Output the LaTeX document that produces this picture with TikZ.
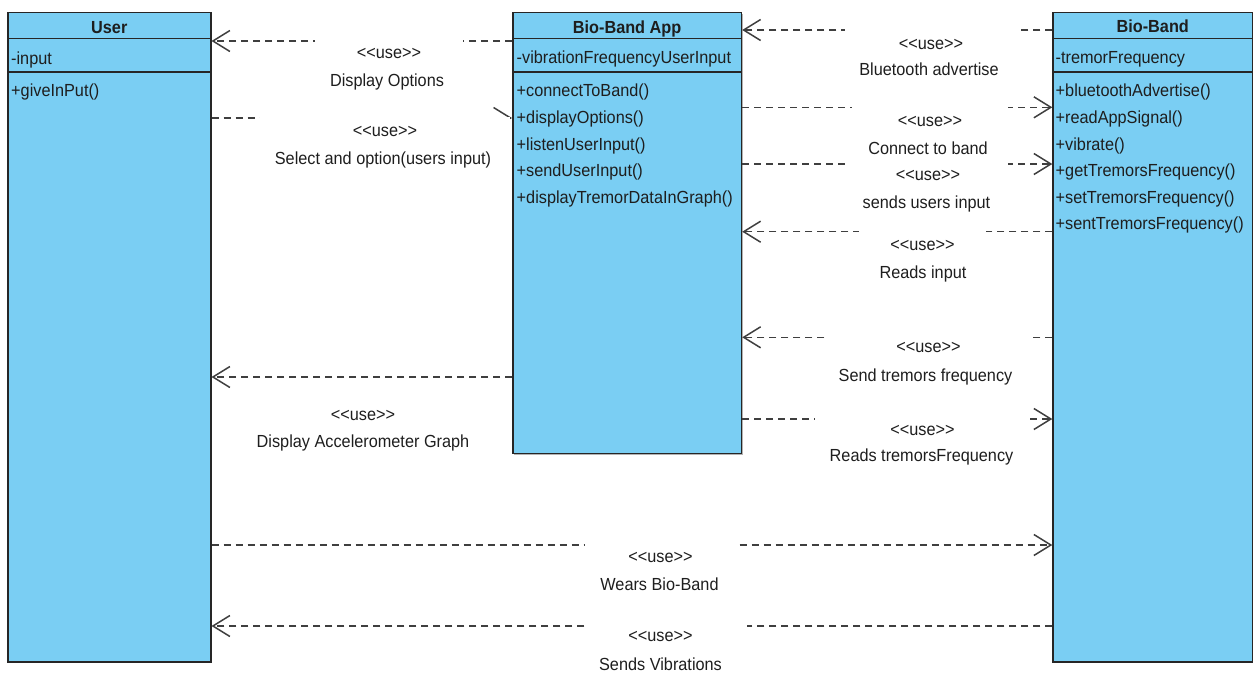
\documentclass[tikz,border=0pt]{standalone}
\usepackage{fontspec}
\setmainfont{Liberation Sans}[FakeStretch=0.93, Ligatures=TeXOff]
\usetikzlibrary{arrows.meta}

\definecolor{classfill}{HTML}{7ACEF3}
\definecolor{classedge}{HTML}{262626}
\definecolor{depline}{HTML}{3F3F3F}
\definecolor{ink}{HTML}{1E1E1E}

\begin{document}
\begin{tikzpicture}[x=1pt, y=-1pt,
  every node/.style={font=\fontsize{17.5}{21}\selectfont, text=ink},
  classbox/.style={draw=classedge, line width=1.5pt, fill=classfill,
    anchor=north west, inner sep=0pt,
    preaction={fill=black!30, transform canvas={shift={(1.2pt,-1.4pt)}}}},
  classline/.style={draw=classedge, line width=1.5pt},
  classtitle/.style={anchor=base, inner sep=0pt, font=\fontsize{17.5}{21}\selectfont\bfseries},
  member/.style={anchor=base west, inner sep=0pt},
  dep/.style={draw=depline, line width=1.5pt, dash pattern=on 7pt off 5pt,
    -{Straight Barb[length=17pt, width=21pt, line width=1.5pt]}},
  usemask/.style={anchor=base, fill=white, inner sep=0pt, text depth=3pt},
  deptext/.style={anchor=base, inner sep=0pt},
]
\useasboundingbox (0,0) rectangle (1253,673);

% ---------- class User ----------
\node[classbox, minimum width=203pt, minimum height=649.3pt] (user) at (7,11.7) {};
\draw[classline] (user.west |- 0,38.7) -- (user.east |- 0,38.7);
\draw[classline] (user.west |- 0,71.8) -- (user.east |- 0,71.8);
\node[classtitle] (usertitle) at (user.north |- 0,33.3) {User};
\node[member] (userattr) at (11,64) {-input};
\node[member] (userop1) at (11,96.7) {+giveInPut()};

% ---------- class Bio-Band App ----------
\node[classbox, minimum width=228.7pt, minimum height=441pt] (app) at (512,11.7) {};
\draw[classline] (app.west |- 0,38.7) -- (app.east |- 0,38.7);
\draw[classline] (app.west |- 0,71.8) -- (app.east |- 0,71.8);
\node[classtitle] (apptitle) at (app.north |- 0,33.3) {Bio-Band App};
\node[member] (appattr) at (516.5,63.5) {-vibrationFrequencyUserInput};
\node[member] (appop1) at (516.5,96.7)  {+connectToBand()};
\node[member] (appop2) at (516.5,123.35) {+displayOptions()};
\node[member] (appop3) at (516.5,150)   {+listenUserInput()};
\node[member] (appop4) at (516.5,176.65) {+sendUserInput()};
\node[member] (appop5) at (516.5,203.3) {+displayTremorDataInGraph()};

% ---------- class Bio-Band ----------
\node[classbox, minimum width=199.4pt, minimum height=649.3pt] (band) at (1052.3,11.7) {};
\draw[classline] (band.west |- 0,38.7) -- (band.east |- 0,38.7);
\draw[classline] (band.west |- 0,71.8) -- (band.east |- 0,71.8);
\node[classtitle] (bandtitle) at (band.north |- 0,32.8) {Bio-Band};
\node[member] (bandattr) at (1055.5,63.5) {-tremorFrequency};
\node[member] (bandop1) at (1055.5,96.7)   {+bluetoothAdvertise()};
\node[member] (bandop2) at (1055.5,123.35) {+readAppSignal()};
\node[member] (bandop3) at (1055.5,150)    {+vibrate()};
\node[member] (bandop4) at (1055.5,176.65) {+getTremorsFrequency()};
\node[member] (bandop5) at (1055.5,203.3)  {+setTremorsFrequency()};
\node[member] (bandop6) at (1055.5,229.95) {+sentTremorsFrequency()};

% ---------- dependencies ----------
% App -> User : Display Options
\draw[dep] (app.west |- 0,41) -- (user.east |- 0,41);
\node[usemask, minimum width=148pt, text height=20pt] (doTag) at (389,58.5) {<<use>>};
\node[deptext] (doText) at (387,86) {Display Options};

% User -> App : Select and option
\draw[dep] (user.east |- 0,118) -- (app.west |- 0,118);
\node[usemask, minimum width=250pt, text height=19.9pt] (selTag) at (385,136.7) {<<use>>};
\node[deptext] (selText) at (383,164) {Select and option(users input)};

% Bio-Band -> App : Bluetooth advertise
\draw[dep] (band.west |- 0,30) -- (app.east |- 0,30);
\node[usemask, minimum width=172pt, text height=21.8pt] (btTag) at (931,49.3) {<<use>>};
\node[deptext] (btText) at (929,75) {Bluetooth advertise};

% App -> Bio-Band : Connect to band
\draw[dep] (app.east |- 0,107.3) -- (band.west |- 0,107.3);
\node[usemask, minimum width=156pt, text height=21.9pt] (cbTag) at (930,126.7) {<<use>>};
\node[deptext] (cbText) at (928,154) {Connect to band};

% App -> Bio-Band : sends users input
\draw[dep] (app.east |- 0,164) -- (band.west |- 0,164);
\node[usemask, minimum width=160pt, text height=19.2pt] (suTag) at (928,180.7) {<<use>>};
\node[deptext] (suText) at (926.5,208) {sends users input};

% Bio-Band -> App : Reads input
\draw[dep] (band.west |- 0,231.7) -- (app.east |- 0,231.7);
\node[usemask, minimum width=127pt, text height=20.8pt] (riTag) at (922.5,250) {<<use>>};
\node[deptext] (riText) at (923,278) {Reads input};

% Bio-Band -> App : Send tremors frequency
\draw[dep] (band.west |- 0,337.3) -- (app.east |- 0,337.3);
\node[usemask, minimum width=203pt, text height=17.2pt] (stTag) at (928.5,352) {<<use>>};
\node[deptext] (stText) at (925.5,381.5) {Send tremors frequency};

% App -> Bio-Band : Reads tremorsFrequency
\draw[dep] (app.east |- 0,419) -- (band.west |- 0,419);
\node[usemask, minimum width=215pt, text height=18.5pt] (rtTag) at (922.5,435) {<<use>>};
\node[deptext] (rtText) at (921.5,461.7) {Reads tremorsFrequency};

% App -> User : Display Accelerometer Graph
\draw[dep] (app.west |- 0,377) -- (user.east |- 0,377);
\node[deptext] (daTag) at (363,420) {<<use>>};
\node[deptext] (daText) at (363,447) {Display Accelerometer Graph};

% User -> Bio-Band : Wears Bio-Band
\draw[dep] (user.east |- 0,545) -- (band.west |- 0,545);
\node[usemask, minimum width=151pt, text height=20.2pt] (wbTag) at (660.5,562.7) {<<use>>};
\node[deptext] (wbText) at (659.5,590) {Wears Bio-Band};

% Bio-Band -> User : Sends Vibrations
\draw[dep] (band.west |- 0,626) -- (user.east |- 0,626);
\node[usemask, minimum width=162pt, text height=18.2pt] (svTag) at (666,641.7) {<<use>>\kern11pt};
\node[deptext] (svText) at (660.5,670) {Sends Vibrations};
\end{tikzpicture}
\end{document}
